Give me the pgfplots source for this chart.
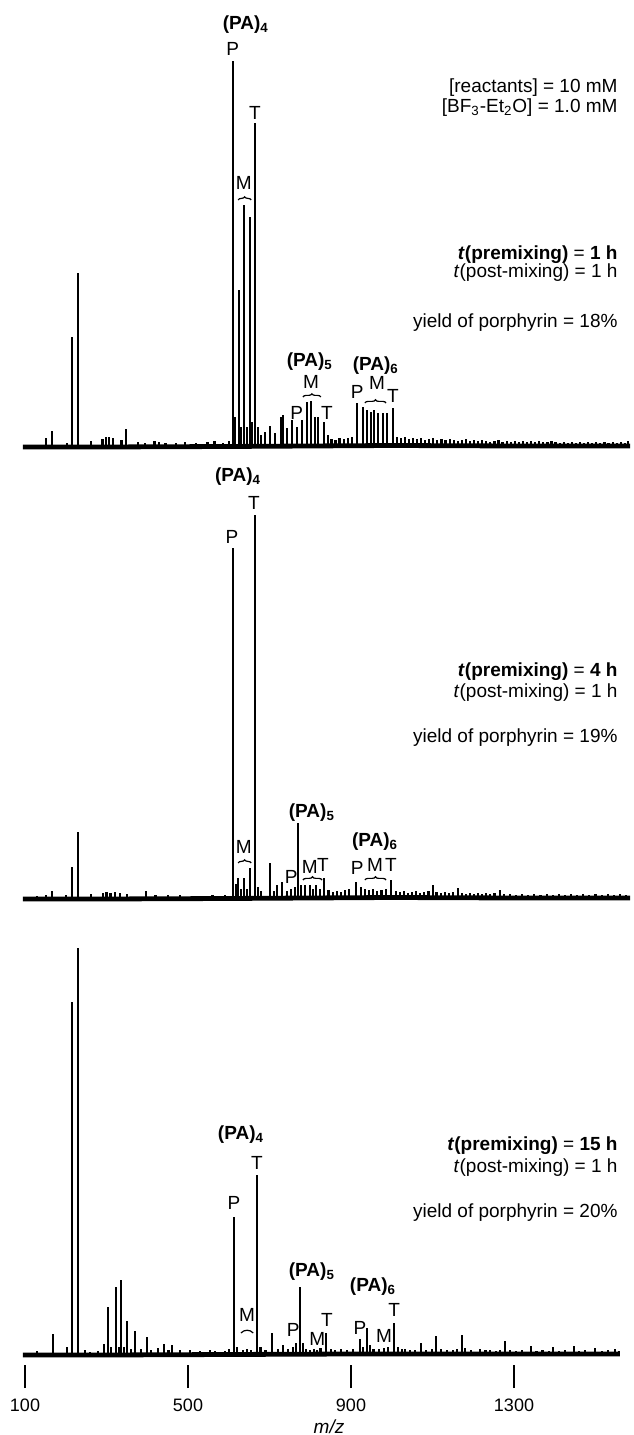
\documentclass[border=0pt]{standalone}
\usepackage{fontspec}
\setmainfont{Liberation Sans}
\usepackage{pgfplots}
\pgfplotsset{compat=1.18}
\usetikzlibrary{decorations.pathreplacing}

\newcommand\lf{\fontsize{9.5}{11}\selectfont}
\newcommand\PA[1]{\textbf{(PA)\textsubscript{#1}}}

% one y unit = one pixel of the reference, x in m/z
\pgfplotsset{
  spec/.style={x=0.20375pt, y=0.5pt, xmin=90, xmax=1590, ymin=0, ymax=430,
    clip=false, anchor=south west},
  base/.style={black, line width=2.4pt, mark=none},
  pk/.style={black, ycomb, line width=1.1pt, mark=none},
}
\tikzset{lab/.style={font=\lf, inner sep=0pt}, rt/.style={font=\lf, inner sep=0pt, anchor=east},
  br/.style={decorate, decoration={brace, amplitude=1.6pt}, line width=0.6pt}}

\begin{document}
\begin{tikzpicture}
\useasboundingbox (0,0) rectangle (316.5pt,717.5pt);

% ---------- top: premixing 1 h ----------
\begin{axis}[spec, hide axis, at={(10.4625pt,494pt)}]
\addplot[base] coordinates {(95,0) (300,0) (600,0.5) (800,1) (1000,1.5) (1300,1) (1585,1)};
\addplot[pk] coordinates {
(152,9) (166,16) (203,4) (215,110) (230,174) (262,6) (290,8) (298,10) (306,10)
(316,9) (337,7) (348,18) (378,5) (395,4) (418,6) (428,5) (445,4) (470,4) (492,5)
(520,4) (548,5) (565,6) (585,4) (600,6)
(610,386) (616,30) (625,157) (630,20) (637,242) (645,20) (652,230) (658,25) (664,324)
(672,20) (680,12) (689,15) (701,21) (713,14) (728,30) (733,32) (743,19) (755,27)
(767,20) (780,27) (792,45) (802,46) (812,30) (819,30) (834,25) (844,12) (852,8)
(862,7) (872,9) (882,8) (892,9) (902,10)
(915,44) (929,40) (939,37) (949,35) (957,37) (966,34) (979,34) (988,34) (1003,39)
(1012,10) (1022,9) (1032,10) (1042,8) (1052,9) (1062,8) (1072,9) (1082,7) (1092,8)
(1102,9) (1112,7) (1122,8) (1132,7) (1142,8) (1152,7) (1162,6) (1172,7) (1182,8)
(1192,6) (1202,7) (1212,6) (1222,7) (1232,6) (1242,5) (1252,6) (1262,7) (1272,5)
(1282,6) (1292,5) (1302,6) (1312,5) (1322,6) (1332,5) (1342,6) (1352,5) (1362,6)
(1372,5) (1382,5) (1392,6) (1402,5) (1412,4) (1422,5) (1432,4) (1442,5) (1452,4)
(1462,5) (1472,4) (1482,5) (1492,4) (1502,5) (1512,4) (1522,5) (1532,4) (1542,5)
(1552,4) (1562,5) (1572,4) (1580,6)};
\node[lab] at (axis cs:642,422) {\PA{4}};
\node[lab] at (axis cs:610,398) {P};
\node[lab] at (axis cs:664,334) {T};
\node[lab] at (axis cs:637,264) {M};
\draw[br] (axis cs:623,247) -- (axis cs:655,247);
\node[lab] at (axis cs:799,85) {\PA{5}};
\node[lab] at (axis cs:802,65) {M};
\draw[br] (axis cs:782,50) -- (axis cs:826,50);
\node[lab] at (axis cs:767,34) {P};
\node[lab] at (axis cs:841,34) {T};
\node[lab] at (axis cs:961,81) {\PA{6}};
\node[lab] at (axis cs:915,55) {P};
\node[lab] at (axis cs:964,64) {M};
\draw[br] (axis cs:934,44) -- (axis cs:986,44);
\node[lab] at (axis cs:1003,51) {T};
\node[rt] at (axis cs:1555,359) {[reactants] = 10 mM};
\node[rt] at (axis cs:1555,339) {[BF\textsubscript{3}-Et\textsubscript{2}O] = 1.0 mM};
\node[rt] at (axis cs:1555,192) {\textbf{\textit{t}(premixing)} = \textbf{1 h}};
\node[rt] at (axis cs:1555,174) {\textit{t}(post-mixing) = 1 h};
\node[rt] at (axis cs:1555,124) {yield of porphyrin = 18\%};
\end{axis}

% ---------- middle: premixing 4 h ----------
\begin{axis}[spec, hide axis, at={(10.4625pt,268pt)}]
\addplot[base] coordinates {(95,0) (300,0) (600,0.5) (800,1) (1000,1.5) (1300,1) (1585,1)};
\addplot[pk] coordinates {
(130,3) (152,4) (166,8) (200,4) (215,32) (230,67) (262,5) (291,6) (300,7) (310,6)
(321,7) (333,6) (350,5) (397,8) (420,4) (450,4) (480,4) (520,3) (560,4) (590,4)
(610,351) (618,15) (623,21) (630,10) (637,21) (645,10) (652,31) (664,384) (672,12)
(680,8) (701,36) (712,8) (718,14) (730,17) (742,8) (753,10) (762,12) (770,76)
(778,14) (787,14) (799,14) (807,10) (814,14) (824,10) (834,21) (845,9) (855,7)
(865,8) (875,7) (885,9) (895,10) (912,17) (924,12) (934,10) (944,9) (954,10)
(964,8) (975,9) (985,10) (998,19) (1010,8) (1020,7) (1030,8) (1040,6) (1050,7)
(1060,8) (1070,6) (1080,7) (1090,8) (1101,14) (1110,7) (1120,6) (1130,7) (1140,6)
(1150,7) (1163,11) (1172,6) (1182,5) (1192,6) (1202,5) (1212,6) (1222,5) (1232,6)
(1242,5) (1252,6) (1266,9) (1276,5) (1290,5) (1305,4) (1320,5) (1335,4) (1350,5)
(1365,4) (1380,5) (1395,4) (1410,5) (1425,4) (1440,5) (1455,4) (1470,5) (1485,4)
(1500,5) (1515,4) (1530,5) (1545,4) (1560,5) (1575,4)};
\node[lab] at (axis cs:623,422) {\PA{4}};
\node[lab] at (axis cs:662,396) {T};
\node[lab] at (axis cs:608,362) {P};
\node[lab] at (axis cs:637,52) {M};
\draw[br] (axis cs:623,36) -- (axis cs:655,36);
\node[lab] at (axis cs:804,86) {\PA{5}};
\node[lab] at (axis cs:753,22) {P};
\node[lab] at (axis cs:799,32) {M};
\node[lab] at (axis cs:831,34) {T};
\draw[br] (axis cs:782,19) -- (axis cs:829,19);
\node[lab] at (axis cs:959,57) {\PA{6}};
\node[lab] at (axis cs:915,31) {P};
\node[lab] at (axis cs:959,34) {M};
\node[lab] at (axis cs:998,34) {T};
\draw[br] (axis cs:934,19) -- (axis cs:986,19);
\node[rt] at (axis cs:1555,227) {\textbf{\textit{t}(premixing)} = \textbf{4 h}};
\node[rt] at (axis cs:1555,206) {\textit{t}(post-mixing) = 1 h};
\node[rt] at (axis cs:1555,161) {yield of porphyrin = 19\%};
\end{axis}

% ---------- bottom: premixing 15 h ----------
\begin{axis}[spec, at={(10.4625pt,35pt)}, ymin=-10,
  axis x line=bottom, axis y line=none, x axis line style={draw=none},
  xtick={100,500,900,1300}, tick align=outside, major tick length=11.5pt,
  tick style={black, line width=0.7pt},
  xticklabel style={font=\fontsize{9}{10}\selectfont, yshift=-2pt},
  /pgf/number format/assume math mode=true, /pgf/number format/1000 sep={}]
\addplot[base] coordinates {(95,0) (300,0) (600,0.5) (900,1) (1200,1) (1560,1)};
\addplot[pk] coordinates {
(130,4) (169,21) (203,8) (215,353) (230,407) (247,5) (260,3) (280,4) (294,11)
(304,48) (312,8) (323,68) (330,8) (336,75) (343,8) (350,34) (360,6) (370,24)
(385,6) (399,18) (410,5) (426,7) (441,11) (452,5) (461,10) (480,5) (505,5) (530,4)
(554,5) (566,4) (590,4) (600,6)
(613,138) (620,8) (635,5) (645,6) (655,5) (669,180) (678,8) (690,5) (706,22)
(720,6) (733,10) (745,6) (758,8) (765,12) (775,68) (782,12) (790,6) (800,5)
(810,6) (817,5) (825,7) (839,22) (850,6) (860,5) (875,6) (890,5) (905,6) (922,16)
(930,8) (939,27) (947,10) (955,6) (969,6) (980,7) (990,8) (1006,32) (1015,8)
(1025,6) (1033,6) (1045,5) (1058,5) (1072,12) (1085,5) (1098,6) (1109,19) (1120,6)
(1135,5) (1150,5) (1160,6) (1172,20) (1180,7) (1195,5) (1217,6) (1230,5) (1241,5)
(1255,4) (1265,5) (1278,14) (1290,5) (1305,4) (1320,5) (1342,9) (1355,4) (1370,5)
(1385,4) (1396,8) (1410,4) (1425,5) (1447,9) (1460,4) (1475,5) (1499,7) (1515,4)
(1530,5) (1548,6) (1558,4)};
\node[lab] at (axis cs:630,220) {\PA{4}};
\node[lab] at (axis cs:613,152) {P};
\node[lab] at (axis cs:669,192) {T};
\node[lab] at (axis cs:645,40) {M};
\draw[line width=0.6pt] (axis cs:630,22) to[bend left=50] (axis cs:660,22);
\node[lab] at (axis cs:804,83) {\PA{5}};
\node[lab] at (axis cs:758,25) {P};
\node[lab] at (axis cs:817,16) {M};
\node[lab] at (axis cs:841,35) {T};
\node[lab] at (axis cs:954,68) {\PA{6}};
\node[lab] at (axis cs:922,27) {P};
\node[lab] at (axis cs:981,19) {M};
\node[lab] at (axis cs:1006,45) {T};
\node[rt] at (axis cs:1555,209) {\textbf{\textit{t}(premixing)} = \textbf{15 h}};
\node[rt] at (axis cs:1555,187) {\textit{t}(post-mixing) = 1 h};
\node[rt] at (axis cs:1555,142) {yield of porphyrin = 20\%};
\node[lab] at (axis cs:846,-72) {\textit{m/z}};
\end{axis}
\end{tikzpicture}
\end{document}
